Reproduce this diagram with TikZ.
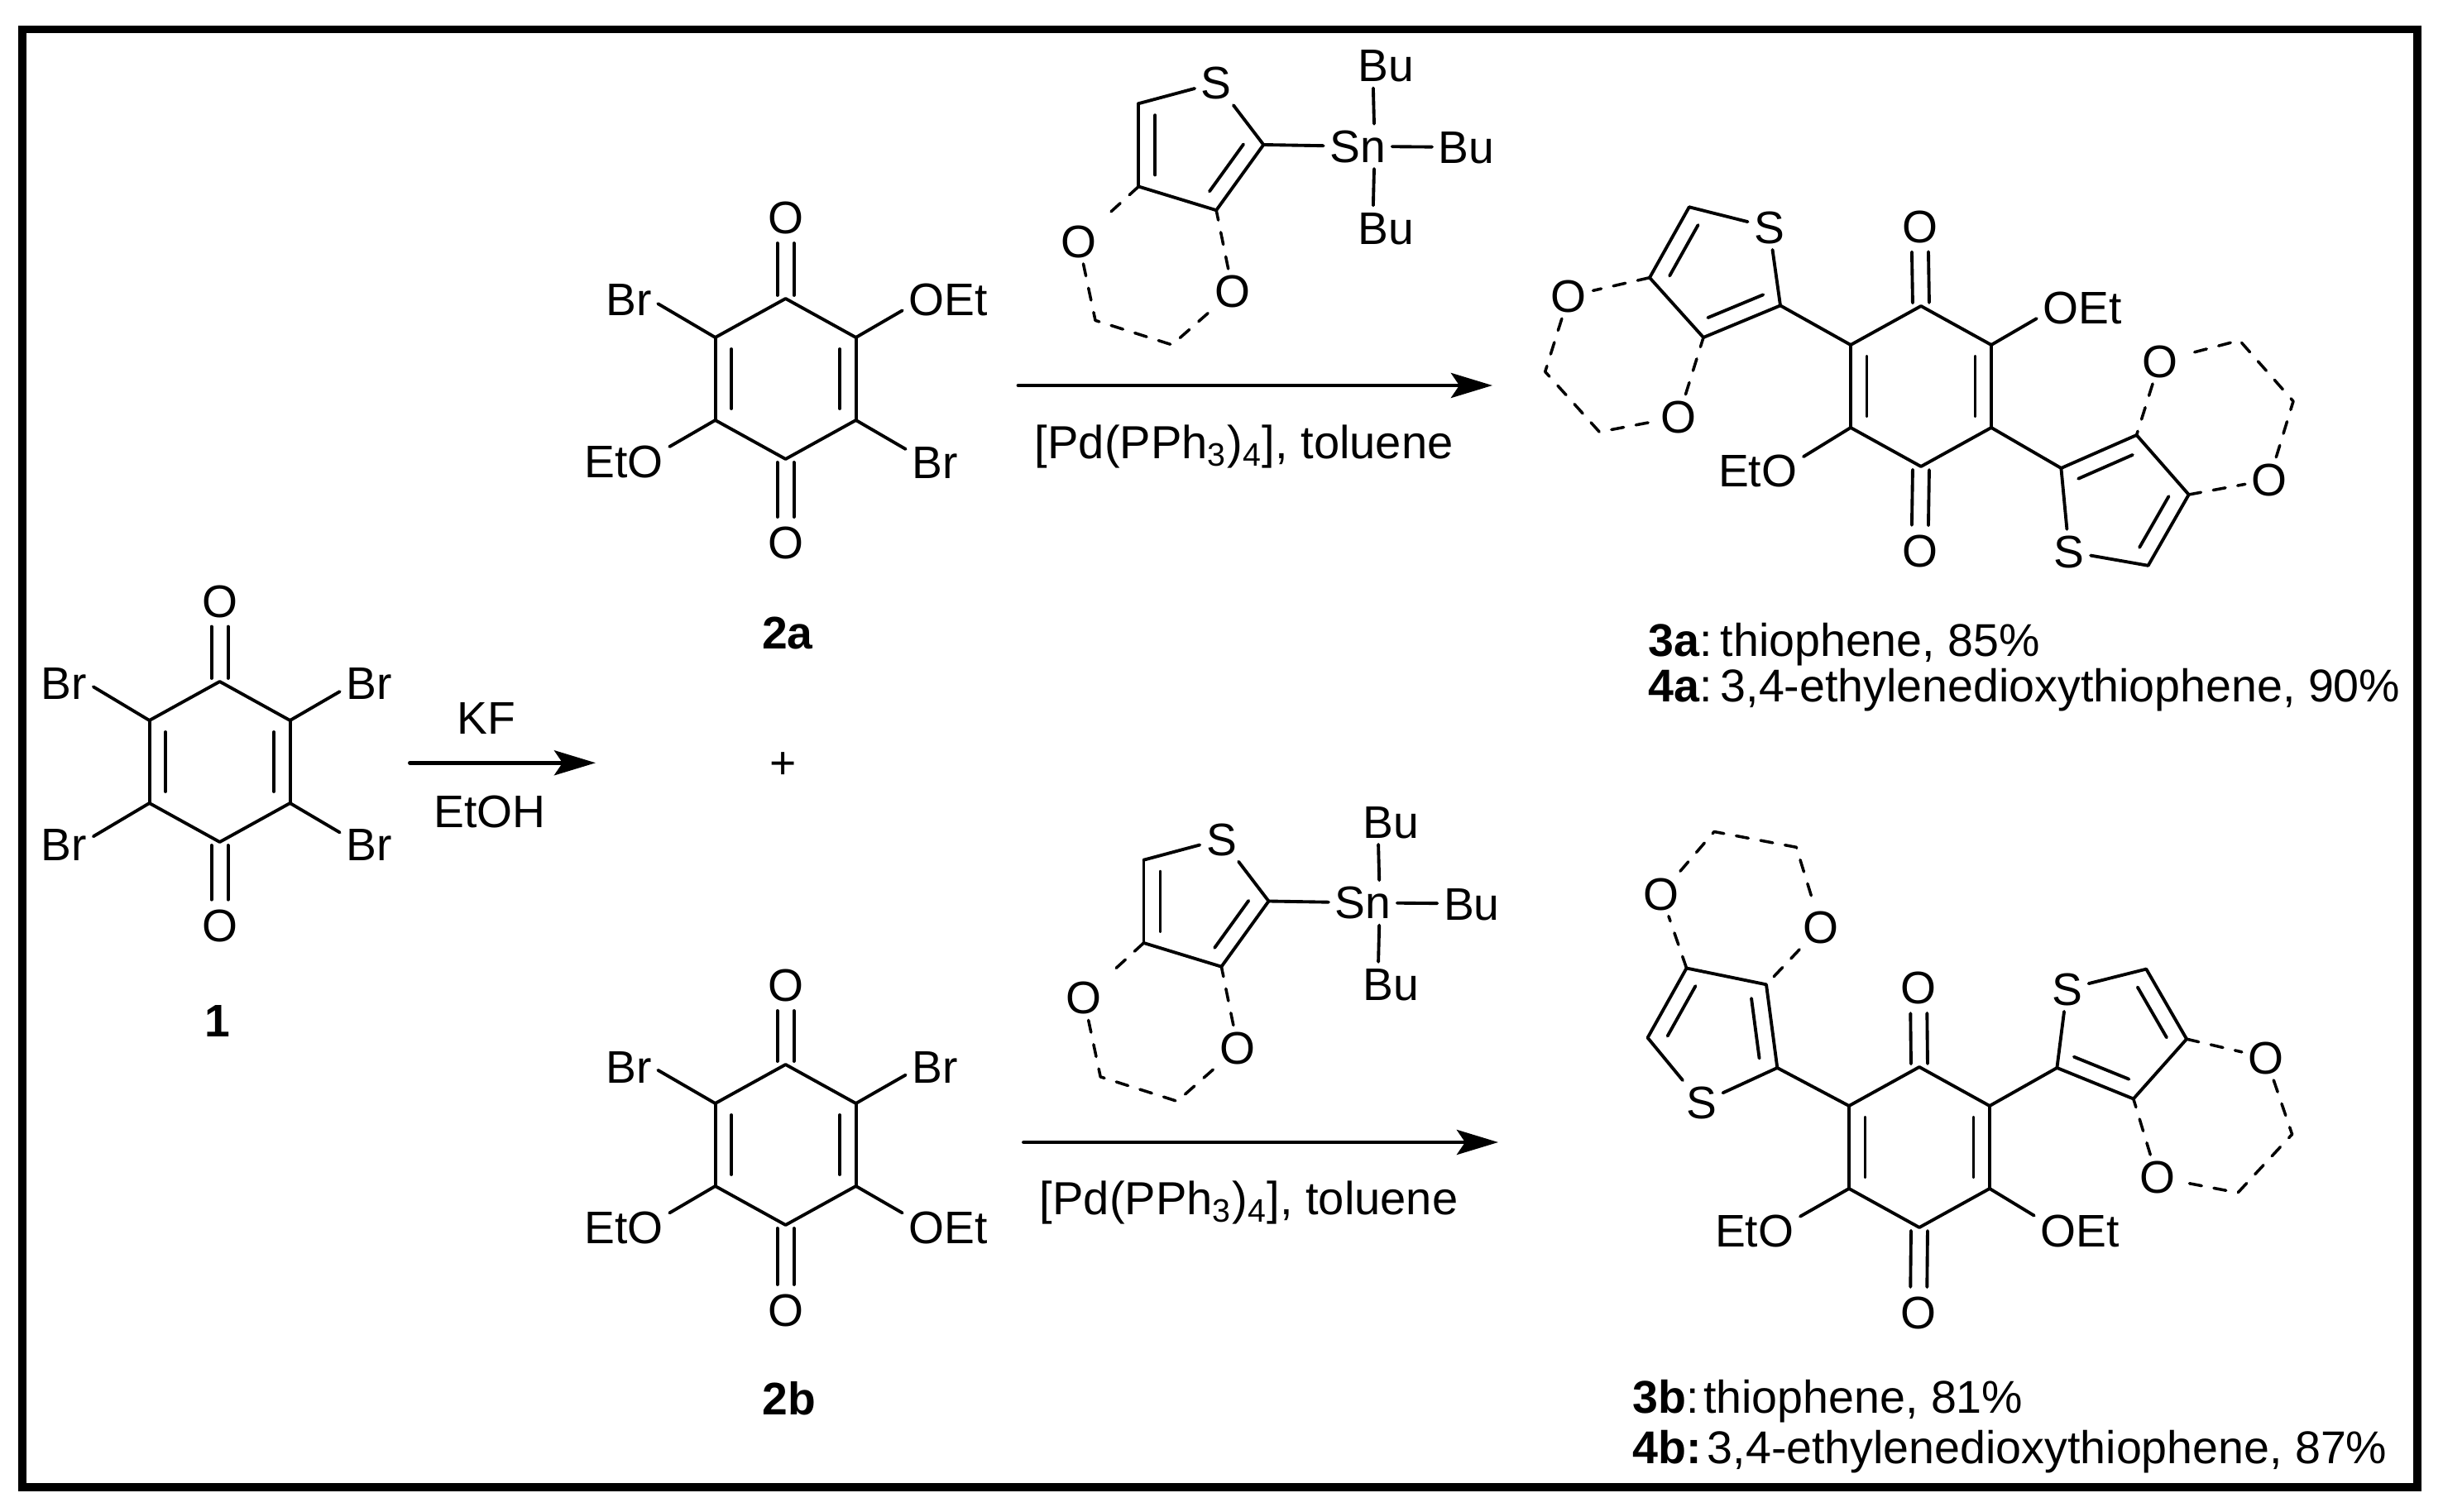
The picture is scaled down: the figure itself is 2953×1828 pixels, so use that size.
\documentclass[tikz,border=0pt]{standalone}
\usepackage{fontspec}
\setmainfont{Liberation Sans}
\usetikzlibrary{arrows.meta}
\usetikzlibrary{calc}
\tikzset{
  bond/.style={line width=1.1pt},
  dashbond/.style={line width=1.0pt,dash pattern=on .15cm off .15cm},
  rxnarrow/.style={line width=1.4pt,-{Stealth[length=.5cm,width=.3cm,inset=.1cm]}},
  atom/.style={inner sep=.07cm,text height=.39cm,text depth=0pt},
  caption/.style={inner sep=0pt,anchor=west,font=\fontsize{15.8}{18}\selectfont}
}
% double bond, inner line on the side given by the sign of #3
\newcommand{\dbond}[3]{
  \draw [bond] (#1)--(#2);
  \draw [bond] ($(#1)!.14!(#2)!#3!90:(#2)$)--($(#2)!.14!(#1)!#3!-90:(#1)$);
}
% carbonyl from ring carbon to oxygen node
\newcommand{\cobond}[2]{
  \draw [bond,shorten <=.04cm,shorten >=.31cm] ($(#1)!.1cm!90:(#2)$)--($(#2)!.1cm!-90:(#1)$);
  \draw [bond,shorten <=.04cm,shorten >=.31cm] ($(#1)!.1cm!-90:(#2)$)--($(#2)!.1cm!90:(#1)$);
}
% quinone ring: prefix, centre x, centre y
\newcommand{\quinone}[3]{
  \coordinate (#1t) at (#2,#3-97);
  \coordinate (#1ur) at (#2+85,#3-50);
  \coordinate (#1lr) at (#2+85,#3+50);
  \coordinate (#1b) at (#2,#3+97);
  \coordinate (#1ll) at (#2-85,#3+50);
  \coordinate (#1ul) at (#2-85,#3-50);
  \draw [bond] (#1ul)--(#1t)--(#1ur);
  \draw [bond] (#1ll)--(#1b)--(#1lr);
  \dbond{#1ur}{#1lr}{-.195cm}
  \dbond{#1ul}{#1ll}{.195cm}
}
% stannyl thiophene above a reaction arrow: prefix, shift x, shift y
\newcommand{\tinreagent}[3]{
  \begin{scope}[shift={(#2,#3)}]
  \coordinate (#1h) at (1376.3,125.2);
  \coordinate (#1c) at (1527.3,175);
  \coordinate (#1d) at (1470.2,254.2);
  \coordinate (#1e) at (1376.3,225.5);
  \coordinate (#1m) at (1324,387.4);
  \coordinate (#1n) at (1416.7,416.9);
  \node [atom] (#1s) at (1470.2,100) {S};
  \node [atom] (#1ol) at (1303.7,291.7) {O};
  \node [atom] (#1or) at (1490.2,352.2) {O};
  \node [atom] (#1sn) at (1641.2,176.9) {Sn};
  \node [atom] (#1bt) at (1675,79.3) {Bu};
  \node [atom] (#1br) at (1772.6,178) {Bu};
  \node [atom] (#1bb) at (1675,275.6) {Bu};
  \draw [bond] (#1h)--(#1s)--(#1c);
  \draw [bond] (#1d)--(#1e);
  \dbond{#1h}{#1e}{.2cm}
  \dbond{#1c}{#1d}{-.2cm}
  \draw [dashbond] (#1e)--(#1ol)--(#1m)--(#1n)--(#1or)--(#1d);
  \draw [bond] (#1c)--(#1sn);
  \draw [bond] (#1sn)--(#1br);
  \draw [bond] (#1sn.54)--(#1bt.241);
  \draw [bond] (#1sn.306)--(#1bb.119);
  \end{scope}
}

\begin{document}
\begin{tikzpicture}[line cap=round,line join=round,x=0.01cm,y=-0.01cm,
  every node/.append style={font=\fontsize{15.7}{18}\selectfont}]
\useasboundingbox (0,0) rectangle (2953,1828);
\draw [line width=2.7pt,line cap=butt,line join=miter] (27,35.5) rectangle (2922,1798);

% 1
\quinone{p}{265.6}{921}
\node [atom] (pot) at (265.6,726.5) {O};
\node [atom] (pob) at (265.6,1118.7) {O};
\node [atom] (pbtl) at (77.5,826) {Br};
\node [atom] (pbtr) at (446,826) {Br};
\node [atom] (pbbl) at (77.5,1020.7) {Br};
\node [atom] (pbbr) at (446,1020.7) {Br};
\cobond{pt}{pot}
\cobond{pb}{pob}
\draw [bond] (pul)--(pbtl.353);
\draw [bond] (pur)--(pbtr.196);
\draw [bond] (pll)--(pbbl.15);
\draw [bond] (plr)--(pbbr.158);
\node (lone) at (263,1235) {\textbf{1}};

\node (kf) at (587.5,869) {KF};
\node (etoh) at (592,981) {EtOH};
\coordinate (ka) at (495.5,922.3);
\coordinate (kb) at (720,922.3);
\draw [rxnarrow] (ka)--(kb);
\node (plus) at (947,926) {+};

% 2a
\quinone{a}{949.6}{458}
\node [atom] (aot) at (949.6,263) {O};
\node [atom] (aob) at (949.6,656) {O};
\node [atom] (abr) at (760,361.6) {Br};
\node [atom] (aoet) at (1146,361.6) {OEt};
\node [atom] (aeto) at (754,558) {EtO};
\node [atom] (abs) at (1130,558.7) {Br};
\cobond{at}{aot}
\cobond{ab}{aob}
\draw [bond] (aul)--(abr.351);
\draw [bond] (aur)--(aoet.194);
\draw [bond] (all)--(aeto.18);
\draw [bond] (alr)--(abs.156);
\node (ltwoa) at (952,765) {\textbf{2a}};

% 2b
\quinone{b}{949.6}{1384}
\node [atom] (bot) at (949.6,1191) {O};
\node [atom] (bob) at (949.6,1584) {O};
\node [atom] (bbr) at (760,1289.5) {Br};
\node [atom] (bbs) at (1130,1289.5) {Br};
\node [atom] (beto) at (754,1484.4) {EtO};
\node [atom] (boet) at (1146,1484.4) {OEt};
\cobond{bt}{bot}
\cobond{bb}{bob}
\draw [bond] (bul)--(bbr.353);
\draw [bond] (bur)--(bbs.196);
\draw [bond] (bll)--(beto.18);
\draw [bond] (blr)--(boet.162);
\node (ltwob) at (954,1691) {\textbf{2b}};

% reagents and arrows
\tinreagent{u}{0}{0}
\tinreagent{v}{6.2}{914.5}
\coordinate (ua) at (1231,466);
\coordinate (ub) at (1804,466);
\draw [rxnarrow] (ua)--(ub);
\node [font=\fontsize{15.95}{18}\selectfont] (upd) at (1503.7,540) {[Pd(PPh\textsubscript{3})\textsubscript{4}], toluene};
\coordinate (va) at (1237.5,1381);
\coordinate (vb) at (1811,1381);
\draw [rxnarrow] (va)--(vb);
\node [font=\fontsize{15.95}{18}\selectfont] (vpd) at (1509.6,1454) {[Pd(PPh\textsubscript{3})\textsubscript{4}], toluene};

% 3a
\quinone{c}{2322}{467}
\node [atom] (cot) at (2320.5,273.5) {O};
\node [atom] (cob) at (2320.5,666) {O};
\node [atom] (coet) at (2517,372.4) {OEt};
\node [atom] (ceto) at (2124.7,569) {EtO};
\cobond{ct}{cot}
\cobond{cb}{cob}
\draw [bond] (cur)--(coet.193);
\draw [bond] (cll)--(ceto.17);
\coordinate (cla) at (2152,369.4);
\coordinate (clb) at (2059,408);
\coordinate (clc) at (1994,335.7);
\coordinate (cld) at (2041.8,250.3);
\coordinate (clm) at (1867.7,449.4);
\coordinate (cln) at (1933.3,522.2);
\node [atom] (cls) at (2138.7,274.7) {S};
\node [atom] (clu) at (1896.4,358) {O};
\node [atom] (clv) at (2029,504) {O};
\draw [bond] (cul)--(cla);
\dbond{cla}{clb}{-.2cm}
\dbond{cld}{clc}{.2cm}
\draw [bond] (clb)--(clc);
\draw [bond] (cla)--(cls)--(cld);
\draw [dashbond] (clc)--(clu)--(clm)--(cln)--(clv)--(clb);
\coordinate (cra) at (2491.4,566);
\coordinate (crb) at (2582.6,526);
\coordinate (crc) at (2645.7,598);
\coordinate (crd) at (2596.6,683.8);
\coordinate (crm) at (2772,485.1);
\coordinate (crn) at (2707,411.5);
\node [atom] (crs) at (2501,667) {S};
\node [atom] (cru) at (2743,580) {O};
\node [atom] (crv) at (2610.6,436.8) {O};
\draw [bond] (clr)--(cra);
\dbond{cra}{crb}{-.2cm}
\dbond{crd}{crc}{.2cm}
\draw [bond] (crb)--(crc);
\draw [bond] (cra)--(crs)--(crd);
\draw [dashbond] (crc)--(cru)--(crm)--(crn)--(crv)--(crb);
\node [caption] (cthree) at (1992,779) {\textbf{3a}:\hspace{.17em}thiophene, 85\%};
\node [caption] (cfour) at (1992,834) {\textbf{4a}:\hspace{.17em}3,4-ethylenedioxythiophene, 90\%};

% 3b
\quinone{d}{2320}{1387}
\node [atom] (dot) at (2319,1194) {O};
\node [atom] (dob) at (2319,1587) {O};
\node [atom] (deto) at (2120.7,1487.6) {EtO};
\node [atom] (doet) at (2514,1487.6) {OEt};
\cobond{dt}{dot}
\cobond{db}{dob}
\draw [bond] (dll)--(deto.17);
\draw [bond] (dlr)--(doet.162);
\coordinate (dla) at (2148.3,1291);
\coordinate (dlb) at (2135,1190.3);
\coordinate (dlc) at (2038.6,1170.5);
\coordinate (dld) at (1991.6,1254.6);
\coordinate (dlm) at (2072,1005.5);
\coordinate (dln) at (2171.3,1024.3);
\node [atom] (dls) at (2056.4,1333.3) {S};
\node [atom] (dlu) at (2007.6,1080.5) {O};
\node [atom] (dlv) at (2201,1120.7) {O};
\draw [bond] (dul)--(dla);
\dbond{dla}{dlb}{.2cm}
\dbond{dld}{dlc}{-.2cm}
\draw [bond] (dlb)--(dlc);
\draw [bond] (dla)--(dls)--(dld);
\draw [dashbond] (dlc)--(dlu)--(dlm)--(dln)--(dlv)--(dlb);
\coordinate (dra) at (2486.4,1291);
\coordinate (drb) at (2578.8,1328.5);
\coordinate (drc) at (2643.1,1256.2);
\coordinate (drd) at (2594.3,1171.6);
\coordinate (drm) at (2770.6,1371.4);
\coordinate (drn) at (2705,1442);
\node [atom] (drs) at (2498.5,1195.7) {S};
\node [atom] (dru) at (2739,1278.7) {O};
\node [atom] (drv) at (2607.5,1423.3) {O};
\draw [bond] (dur)--(dra);
\dbond{dra}{drb}{.2cm}
\dbond{drd}{drc}{-.2cm}
\draw [bond] (drb)--(drc);
\draw [bond] (dra)--(drs)--(drd);
\draw [dashbond] (drc)--(dru)--(drm)--(drn)--(drv)--(drb);
\node [caption] (dthree) at (1972.6,1694) {\textbf{3b}:\hspace{.1em}thiophene, 81\%};
\node [caption] (dfour) at (1972.6,1755) {\textbf{4b:}\hspace{.13em}3,4-ethylenedioxythiophene, 87\%};
\end{tikzpicture}
\end{document}
